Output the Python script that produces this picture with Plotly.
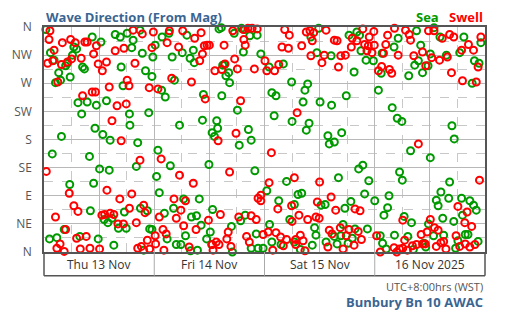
import plotly.graph_objects as go
import pandas as pd

# Hours since Thu 13 Nov 2025 00:00 (WST) and direction (degrees, from)
sea_hours = [0.4,10.5,12.4,15.5,16.6,18.1,19.4,20.9,19.1,21.4,6.5,7.1,6.2,1.4,2.2,4.7,5.1,8.4,8.8,16.8,22.1,23.5,3.2,5.7,2.5,3.6,17.2,7.4,9.4,11.4,13.6,8.2,18.6,22.8,11.1,18.7,
 25.7,27.2,24.2,23.7,31.1,32.5,30.1,27.9,31.8,32.7,38.1,38.6,43.0,43.7,41.4,44.8,46.4,43.4,47.2,38.9,39.3,40.2,39.6,40.4,28.4,25.6,26.4,34.7,38.7,42.1,34.5,29.5,37.6,37.8,44.5,
 49.0,52.1,59.8,58.1,59.4,62.5,66.4,68.1,68.7,69.0,70.1,67.5,53.9,57.4,56.8,49.6,50.5,56.4,60.1,62.6,65.8,50.1,54.0,57.7,57.1,
 77.1,81.1,84.9,86.2,82.0,76.2,71.7,73.6,84.1,87.6,90.5,91.4,95.1,93.7,94.7,81.5,80.7,83.6,82.4,79.4,73.4,93.2,72.8,75.8,76.9,77.9,88.8,
 3.8,12.8,14.4,20.4,1.8,9.9,12.1,14.2,20.1,5.6,10.8,10.1,17.5,21.0,22.5,13.1,13.9,14.8,16.2,17.9,23.0,4.4,1.2,2.8,7.8,11.8,15.2,21.7,
 36.6,37.1,42.5,45.1,24.8,27.5,35.9,45.9,24.5,25.1,48.5,33.8,30.4,26.2,28.2,36.7,32.1,33.2,34.2,40.8,42.8,43.8,36.2,35.4,30.8,26.8,28.8,29.8,23.5,46.2,41.0,33.4,45.1,46.6,47.7,36.5,31.9,
 61.8,62.1,63.2,64.8,68.5,69.4,64.1,70.7,52.8,55.3,56.1,69.8,51.1,54.5,60.3,61.2,65.5,66.8,53.5,49.1,58.9,59.2,65.1,67.7,70.4,49.6,51.6,54.5,58.4,55.8,61.4,63.2,64.6,63.8,66.2,67.1,
 89.3,79.8,84.1,77.4,78.0,88.3,86.4,72.0,75.1,88.1,90.9,92.7,85.4,85.8,93.5,94.1,74.8,74.0,91.1,78.4,80.0,86.8,89.2,83.7,84.8,87.0,91.7,92.3,76.3,79.2,73.2,73.7,82.7,83.1,80.4,74.5,90.1,94.5,89.6]
sea_dir = [356,344,336,348,344,350,339,355,327,318,328,325,315,319,307,298,302,296,293,296,290,281,287,280,271,275,266,239,240,235,242,221,221,223,198,203,
 344,350,331,312,347,323,319,312,310,303,357,359,358,356,350,346,347,320,317,299,300,287,282,271,275,259,248,252,250,227,211,203,210,198,196,
 296,301,358,344,319,314,347,352,347,322,307,288,272,269,259,255,250,240,240,235,250,218,209,206,195,
 342,354,359,344,331,328,306,318,317,315,319,344,335,306,302,306,299,298,287,282,286,270,259,231,214,209,202,
 185,188,179,175,157,153,133,131,137,108,110,66,64,70,66,52,47,54,38,38,37,36,21,23,25,21,11,3,
 191,185,171,179,163,138,140,130,121,95,98,85,85,62,70,68,56,58,43,41,50,59,32,21,26,21,12,12,36,29,0,3,6,6,6,12,2,
 186,173,176,191,133,139,119,114,113,92,94,93,82,76,75,76,70,81,52,44,39,27,44,37,37,16,12,16,11,4,16,25,26,13,14,22,
 181,162,151,128,115,112,96,82,90,86,86,82,83,74,75,67,71,59,59,57,47,54,49,45,26,27,28,28,27,25,26,14,14,8,4,5,18,17,6]

swell_hours = [1.3,1.1,4.0,5.8,6.8,8.9,9.4,2.2,0.8,1.9,3.8,5.1,6.0,8.1,10.8,11.4,15.5,17.4,19.4,21.4,23.5,23.8,19.8,11.8,13.6,12.7,18.1,18.5,14.2,22.9,3.0,8.4,10.5,11.2,15.9,17.9,14.8,
 27.3,30.2,26.8,29.3,32.8,34.2,34.9,35.5,36.0,39.2,34.5,33.9,41.1,43.4,44.4,45.3,46.4,43.5,43.8,41.5,39.4,38.7,37.2,42.1,45.8,27.8,32.1,24.8,35.1,42.8,
 48.1,48.5,50.2,51.1,52.4,53.4,51.8,53.2,56.1,57.1,57.9,58.7,58.4,61.4,58.1,61.0,60.5,63.2,63.8,64.6,65.6,64.1,66.9,67.1,68.1,69.4,70.8,69.8,70.6,70.3,55.1,
 71.8,74.8,76.3,78.7,79.5,79.8,74.4,71.9,71.4,73.9,77.1,80.5,82.4,84.4,83.7,84.9,86.7,88.3,89.2,90.9,92.4,93.5,95.1,73.5,72.8,75.2,75.7,83.1,86.1,87.8,88.7,91.1,94.1,94.5,
 16.8,0.5,20.9,13.7,19.1,5.5,16.5,6.5,7.4,2.5,12.6,13.2,14.4,15.2,18.6,21.7,22.0,16.1,17.3,20.1,4.7,7.1,9.2,3.5,2.8,4.4,7.9,10.0,12.1,20.4,21.2,22.5,23.0,
 41.8,37.9,25.5,29.5,40.4,32.5,47.2,46.6,47.2,28.3,30.8,29.8,25.1,28.8,35.8,38.4,42.4,45.1,46.2,30.4,33.1,25.9,24.2,26.6,24.3,26.1,31.6,36.6,36.8,37.5,38.1,39.8,40.1,40.7,44.1,44.7,
 49.5,54.5,60.0,49.0,50.9,53.9,54.0,55.5,57.4,59.2,59.9,59.5,62.5,63.5,67.7,68.8,62.1,62.7,64.5,66.4,65.8,68.4,69.1,67.5,61.8,65.1,48.8,50.5,47.7,51.5,52.8,49.8,52.1,54.8,54.8,55.8,56.4,56.8,
 81.5,94.8,90.1,92.1,78.1,84.1,91.6,93.1,85.0,85.8,83.4,82.1,72.4,78.5,89.7,86.4,87.0,85.4,87.5,90.5,91.7,92.7,93.8,76.2,77.4,78.1,79.1,76.8,73.2,80.2,81.1,82.4,83.0]
swell_dir = [354,340,335,340,335,336,336,323,302,306,300,304,309,310,317,330,322,326,355,349,327,352,302,301,304,290,275,266,264,263,272,250,256,256,234,237,210,
 354,354,335,328,342,351,330,331,331,331,317,306,354,356,358,358,357,340,331,309,301,292,290,293,293,278,272,261,245,242,
 306,290,290,300,356,347,328,326,330,352,354,351,338,355,314,315,303,339,338,314,315,296,328,342,338,357,344,332,330,322,223,
 353,347,358,355,348,339,332,331,319,318,315,314,320,311,354,354,342,348,344,323,332,323,344,297,290,292,286,298,307,312,287,274,272,296,
 178,129,147,99,93,94,85,74,65,56,59,60,62,60,70,75,63,45,45,47,36,22,25,13,6,1,5,6,5,6,9,19,5,
 190,178,149,123,128,110,91,86,82,85,82,67,56,54,51,60,56,58,52,42,36,36,26,29,13,3,8,12,3,16,12,21,32,9,25,16,
 159,119,112,111,69,74,49,59,52,56,54,80,88,67,69,66,35,29,39,36,26,33,20,11,8,5,32,31,28,24,20,3,10,12,20,27,18,2,
 173,115,73,64,51,52,47,41,39,35,32,28,26,19,26,15,17,9,5,9,13,8,12,7,5,6,3,0,0,10,12,13,13]

dir_ticks = [0, 45, 90, 135, 180, 225, 270, 315, 360]
dir_labels = ["N", "NE", "E", "SE", "S", "SW", "W", "NW", "N"]
day_labels = ["Thu 13 Nov", "Fri 14 Nov", "Sat 15 Nov", "16 Nov 2025"]

base = pd.Timestamp("2025-11-13 00:00")
def to_time(hours):
    return [base + pd.Timedelta(hours=h) for h in hours]

GREEN = "#009a00"
RED = "#ff0000"
BLUE = "#3a6593"

fig = go.Figure()
fig.add_trace(go.Scatter(x=to_time(sea_hours), y=sea_dir, mode="markers", name="Sea",
                         marker=dict(symbol="circle-open", size=7, color=GREEN, line=dict(width=2, color=GREEN)),
                         cliponaxis=False))
fig.add_trace(go.Scatter(x=to_time(swell_hours), y=swell_dir, mode="markers", name="Swell",
                         marker=dict(symbol="circle-open", size=7, color=RED, line=dict(width=2, color=RED)),
                         cliponaxis=False))

x0 = base
x1 = base + pd.Timedelta(days=4)

axis_font = dict(family="Open Sans", size=12, color="#555555")
fig.update_layout(
    width=521, height=315,
    margin=dict(l=42, r=36, t=27, b=63),
    paper_bgcolor="white", plot_bgcolor="white",
    showlegend=False,
    font=dict(family="Open Sans", size=12, color="#333333"),
    xaxis=dict(range=[x0, x1], type="date", showticklabels=False, ticks="",
               tick0=x0, dtick=12 * 3600 * 1000,
               showgrid=True, gridcolor="#b8b8b8", gridwidth=1,
               minor=dict(dtick=6 * 3600 * 1000, tick0=x0, showgrid=True, gridcolor="#c8c8c8", griddash="dash", gridwidth=1),
               showline=True, linecolor="#555555", linewidth=1.5, mirror=True, zeroline=False),
    yaxis=dict(range=[0, 360], tickvals=dir_ticks, ticktext=dir_labels, tickfont=axis_font,
               showgrid=True, gridcolor="#b8b8b8", gridwidth=1,
               minor=dict(dtick=22.5, tick0=0, showgrid=True, gridcolor="#c8c8c8", griddash="dash", gridwidth=1),
               showline=True, linecolor="#555555", linewidth=1.5, mirror=True, zeroline=False,
               ticks="", ticklabelstandoff=8),
    yaxis2=dict(range=[0, 360], tickvals=dir_ticks, ticktext=dir_labels, tickfont=axis_font,
                overlaying="y", side="right", showgrid=False, zeroline=False, ticks="",
                ticklabelstandoff=5, showline=False),
)

ph = 315 - 27 - 63
box_y = -(276 - 252.3) / ph

shapes = [
    dict(type="line", xref="paper", yref="paper", x0=0, x1=0, y0=0, y1=box_y, line=dict(color="#555555", width=1.5)),
    dict(type="line", xref="paper", yref="paper", x0=1, x1=1, y0=0, y1=box_y, line=dict(color="#555555", width=1.5)),
    dict(type="line", xref="paper", yref="paper", x0=0, x1=1, y0=box_y, y1=box_y, line=dict(color="#555555", width=1.5)),
]
for d in range(1, 4):
    t = base + pd.Timedelta(days=d)
    shapes.append(dict(type="line", xref="x", yref="paper", x0=t, x1=t, y0=0, y1=box_y,
                       line=dict(color="#aaaaaa", width=1)))
fig.update_layout(shapes=shapes)

annotations = []
for i, lab in enumerate(day_labels):
    t = base + pd.Timedelta(hours=24 * i + 12)
    annotations.append(dict(x=t, xref="x", y=0, yref="paper", yanchor="middle", yshift=-12,
                            text=lab, showarrow=False, font=dict(family="Open Sans", size=12, color="#333333")))
annotations.append(dict(x=0, xref="paper", y=1, yref="paper", xanchor="left", yanchor="middle", yshift=10,
                        text="<b>Wave Direction (From Mag)</b>", showarrow=False,
                        font=dict(family="Open Sans", size=13, color=BLUE)))
annotations.append(dict(x=(441 - 42.3) / 443, xref="paper", y=1, yref="paper", xanchor="right", yanchor="middle", yshift=10,
                        text="<b>Sea</b>", showarrow=False, font=dict(family="Open Sans", size=13, color=GREEN)))
annotations.append(dict(x=1, xref="paper", y=1, yref="paper", xanchor="right", yanchor="middle", yshift=10,
                        text="<b>Swell</b>", showarrow=False, font=dict(family="Open Sans", size=13, color=RED)))
annotations.append(dict(x=1, xref="paper", y=0, yref="paper", xanchor="right", yanchor="middle", yshift=-(287 - 252.3),
                        text="UTC+8:00hrs (WST)", showarrow=False, font=dict(family="Open Sans", size=11, color="#555555")))
annotations.append(dict(x=1, xref="paper", y=0, yref="paper", xanchor="right", yanchor="middle", yshift=-(302 - 252.3),
                        text="<b>Bunbury Bn 10 AWAC</b>", showarrow=False, font=dict(family="Open Sans", size=13, color=BLUE)))
fig.update_layout(annotations=annotations)

fig.write_html("out.html")
